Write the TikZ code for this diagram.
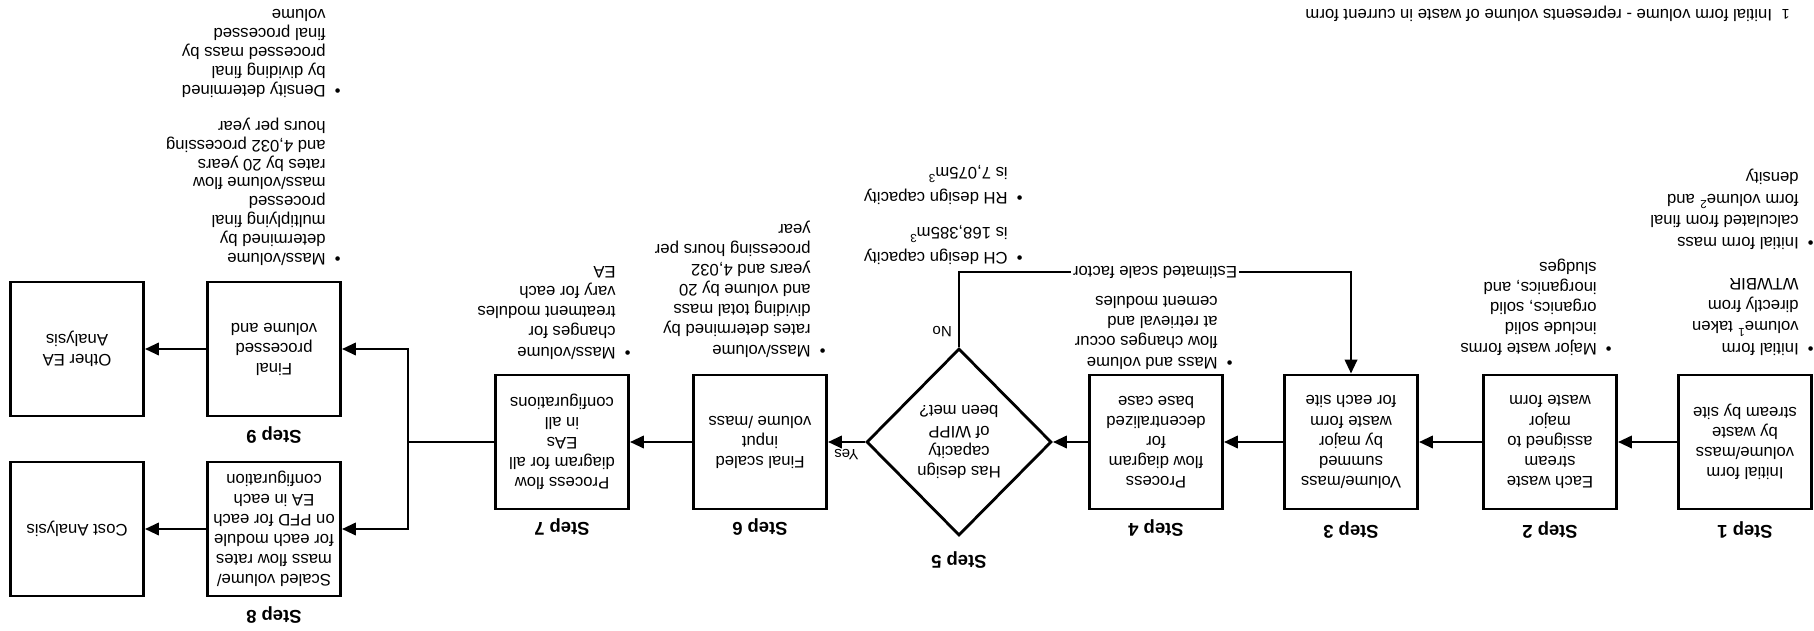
\documentclass[tikz,border=0pt]{standalone}
\usepackage{fontspec}
\setmainfont{Liberation Sans}
\usepackage{tikz}
\usetikzlibrary{arrows.meta,shapes.geometric}

\newcommand{\bodysize}{\fontsize{9.5}{11.4}\selectfont}
\newcommand{\bitem}[1]{\makebox[8.5pt][l]{\textbullet}\begin{tabular}[t]{@{}l@{}}#1\end{tabular}}

\tikzset{
  stepbox/.style={draw, line width=1.6pt, minimum width=2.66cm, minimum height=2.68cm,
    inner sep=0pt, align=center, font=\bodysize},
  decision/.style={diamond, draw, line width=1.6pt, minimum width=3.7cm, minimum height=3.74cm,
    inner sep=0pt, align=center, font=\bodysize},
  steplabel/.style={font=\fontsize{10.5}{12}\selectfont\bfseries, inner sep=0pt},
  notes/.style={anchor=base west, inner sep=0pt, font=\bodysize},
  yesno/.style={font=\fontsize{8.5}{10}\selectfont},
  flow/.style={line width=1.6pt}
}

\begin{document}
\begin{tikzpicture}[x=0.02cm, y=0.02cm, >={Triangle[length=8pt,width=7pt]}]
\useasboundingbox (0,0) rectangle (1814,630);
\begin{scope}[rotate around={180:(907,315)}, transform shape]
   % steps 1 to 7
   \node[stepbox] (s1) at (69,442) {Initial form\\volume/mass\\by waste\\stream by site};
   \node[stepbox] (s2) at (264,442) {Each waste\\stream\\assigned to\\major\\waste form};
   \node[stepbox] (s3) at (463,442) {Volume/mass\\summed\\by major\\waste form\\for each site};
   \node[stepbox] (s4) at (658,442) {Process\\flow diagram\\for\\decentralized\\base case};
   \node[decision] (d5) at (855,442) {Has design\\capacity\\of WIPP\\been met?};
   \node[stepbox] (s6) at (1054,442) {Final scaled\\input\\volume /mass};
   \node[stepbox] (s7) at (1252,442) {Process flow\\diagram for all\\EAs\\in all\\configurations};

   % steps 8 and 9
   \node[stepbox] (s8) at (1540,529) {Scaled volume/\\mass flow rates\\for each module\\on PFD for each\\EA in each\\configuration};
   \node[stepbox] (s9) at (1540,349) {Final\\processed\\volume and};
   \node[stepbox] (cost) at (1737,529) {Cost Analysis};
   \node[stepbox] (oea) at (1737,349) {Other EA\\Analysis};

   % step labels
   \node[steplabel] (l1) at (69,530) {Step 1};
   \node[steplabel] (l2) at (264,530) {Step 2};
   \node[steplabel] (l3) at (463,530) {Step 3};
   \node[steplabel] (l4) at (658,528) {Step 4};
   \node[steplabel] (l5) at (855,560) {Step 5};
   \node[steplabel] (l6) at (1054,527) {Step 6};
   \node[steplabel] (l7) at (1252,527) {Step 7};
   \node[steplabel] (l8) at (1540,615) {Step 8};
   \node[steplabel] (l9) at (1540,435) {Step 9};

   % notes under the steps
   \node[notes, font=\fontsize{9.5}{12.2}\selectfont] (n1a) at (0,343)
     {\bitem{Initial form\\volume\textsuperscript{1} taken\\directly from\\WTWBIR}};
   \node[notes, font=\fontsize{9.5}{12.2}\selectfont] (n1b) at (0,237)
     {\bitem{Initial form mass\\calculated from final\\form volume\textsuperscript{2} and\\density}};
   \node[notes] (n2) at (202,343)
     {\bitem{Major waste forms\\include solid\\organics, solid\\inorganics, and\\sludges}};
   \node[notes] (n4) at (581,357)
     {\bitem{Mass and volume\\flow changes occur\\at retrieval and\\cement modules}};
   \node[notes] (n5a) at (791,252)
     {\bitem{CH design capacity\\[2pt]is 168,385m\textsuperscript{3}}};
   \node[notes] (n5b) at (791,192)
     {\bitem{RH design capacity\\[2pt]is 7,075m\textsuperscript{3}}};
   \node[notes] (n6) at (988,345)
     {\bitem{Mass/volume\\rates determined by\\dividing total mass\\and volume by 20\\years and 4,032\\processing hours per\\year}};
   \node[notes] (n7) at (1183,347)
     {\bitem{Mass/volume\\changes for\\treatment modules\\vary for each\\EA}};
   \node[notes, font=\fontsize{9.5}{10.7}\selectfont] (n9a) at (1473,253)
     {\bitem{Mass/volume\\determined by\\multiplying final\\processed\\mass/volume flow\\rates by 20 years\\and 4,032 processing\\hours per year}};
   \node[notes, font=\fontsize{9.5}{10.7}\selectfont] (n9b) at (1473,85)
     {\bitem{Density determined\\by dividing final\\processed mass by\\final processed\\volume}};

   % footnote
   \node[notes] (fn) at (24,10)
     {\makebox[10pt][l]{\fontsize{8}{9}\selectfont 1}Initial form volume - represents volume of waste in current form};

   % connectors
   \coordinate (j) at (1406,442);
   \coordinate (fb) at (855,272);
   \draw[flow,->] (s1.east) -- (s2.west);
   \draw[flow,->] (s2.east) -- (s3.west);
   \draw[flow,->] (s3.east) -- (s4.west);
   \draw[flow,->] (s4.east) -- (d5.west);
   \draw[flow,->] (d5.east) -- node[yesno, above] {Yes} (s6.west);
   \draw[flow,->] (s6.east) -- (s7.west);
   \draw[flow] (s7.east) -- (j);
   \draw[flow,->] (j) |- (s8.west);
   \draw[flow,->] (j) |- (s9.west);
   \draw[flow,->] (s8.east) -- (cost.west);
   \draw[flow,->] (s9.east) -- (oea.west);
   \draw[flow,->] (d5.south) -- node[yesno, right, pos=0.21] {No} (fb)
     -- node[fill=white, inner xsep=1pt, font=\bodysize] {Estimated scale factor} (fb -| s3.south)
     -- (s3.south);
\end{scope}
\end{tikzpicture}
\end{document}
